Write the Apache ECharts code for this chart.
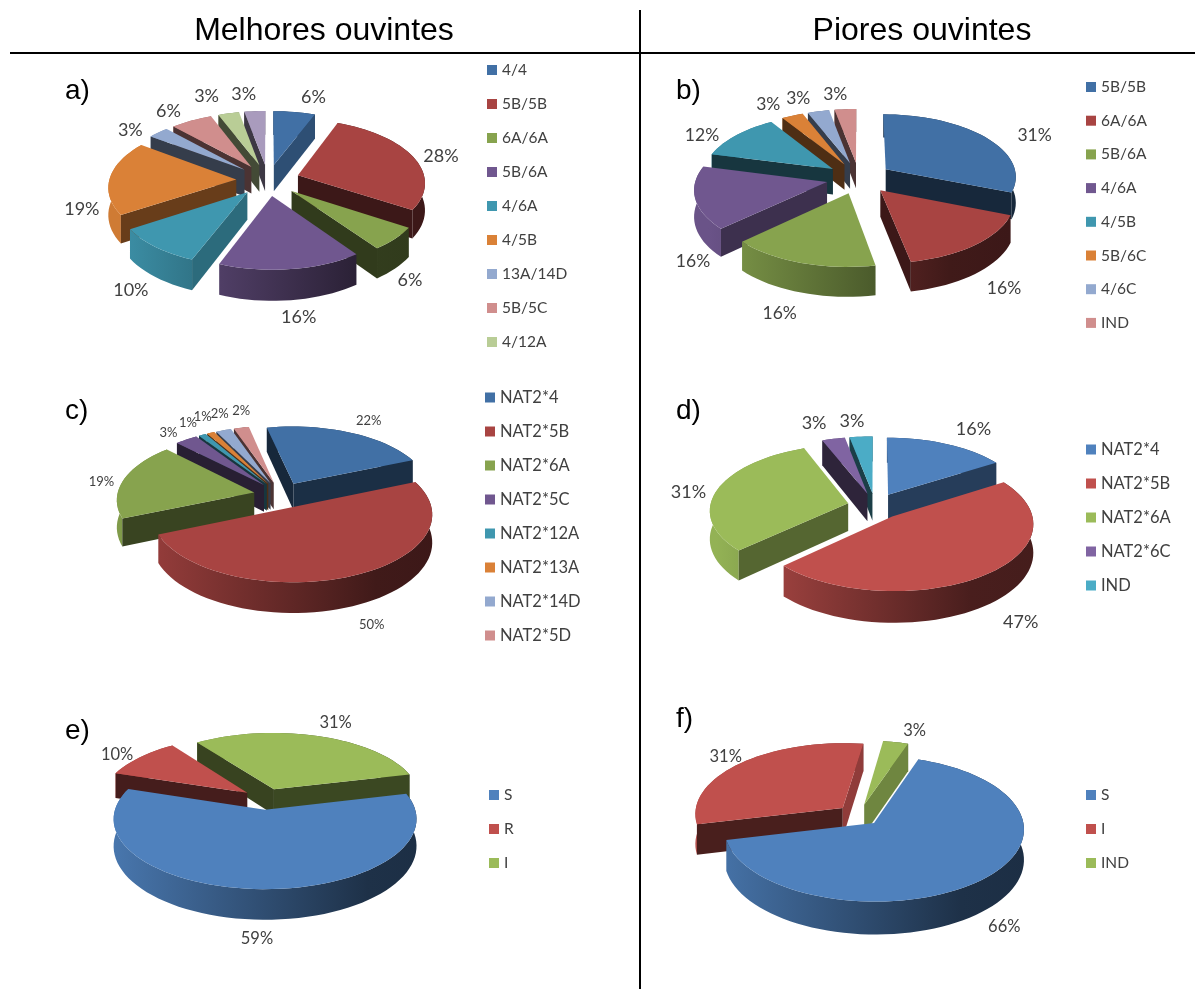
<!DOCTYPE html>
<html lang="pt">
<head>
<meta charset="utf-8">
<title>Melhores e piores ouvintes</title>
<style>html,body{margin:0;padding:0;background:#fff}#chart{width:1195px;height:989px}</style>
<script src="https://cdn.jsdelivr.net/npm/echarts@6/dist/echarts.min.js"></script>
</head>
<body>
<div id="chart"></div>
<script>
// Genotype and phenotype shares per panel
const namesA = ['4/4','5B/5B','6A/6A','5B/6A','4/6A','4/5B','13A/14D','5B/5C','4/12A','outros'];
const valuesA = [6,28,6,16,10,19,3,6,3,3];
const legendA = ['4/4','5B/5B','6A/6A','5B/6A','4/6A','4/5B','13A/14D','5B/5C','4/12A'];

const namesB = ['5B/5B','6A/6A','5B/6A','4/6A','4/5B','5B/6C','4/6C','IND'];
const valuesB = [31,16,16,16,12,3,3,3];

const namesC = ['NAT2*4','NAT2*5B','NAT2*6A','NAT2*5C','NAT2*12A','NAT2*13A','NAT2*14D','NAT2*5D'];
const valuesC = [22,50,19,3,1,1,2,2];

const namesD = ['NAT2*4','NAT2*5B','NAT2*6A','NAT2*6C','IND'];
const valuesD = [16,47,31,3,3];

const namesE = ['S','R','I'];
const valuesE = [59,10,31];

const namesF = ['S','I','IND'];
const valuesF = [66,31,3];

// Slice palettes
const deepColors = ['#4170A5','#A84442','#87A34E','#70578F','#3F97AF','#DA8137','#93A9CF','#D08E8D','#B9CD96','#A99BBD'];
const brightColors = ['#4F81BD','#C0504D','#9BBB59','#8064A2','#4BACC6'];

// Pie geometry: centre, radii, tilt perspective, wall height, rotation, slice offset, label shifts
const panels = [
  {id:'a', names:namesA, values:valuesA, legend:legendA, colors:deepColors,
   cx:268, cy:180, rx:127, ry:62.5, k:.105, depth:27, start:0, explode:.25, font:'18px Lato',
   tag:[65,91], legendLeft:487, legendTop:62, legendGap:18, legendFont:15.5,
   nudge:[[15,-1],[5,4],[-6,9],[4,-1],[-6,6],[-3,32],[-11,7],[-11,2],[-16,-4],[-9,-3]]},
  {id:'b', names:namesB, values:valuesB, legend:namesB, colors:deepColors,
   cx:859, cy:178, rx:131, ry:62.5, k:.105, depth:26, start:0, explode:.25, font:'17.5px Lato',
   tag:[676,91], legendLeft:1086, legendTop:79, legendGap:17.7, legendFont:15.5,
   nudge:[[30,6],[10,7],[-12,5],[24,53],[-15,8],[-14,1],[-14,0],[-8,-1]]},
  {id:'c', names:namesC, values:valuesC, legend:namesC, colors:deepColors,
   cx:281, cy:495, rx:137, ry:65, k:.1, depth:27, start:-12, explode:.2, font:'13px Lato',
   tag:[65,411], legendLeft:485, legendTop:389, legendGap:17, legendFont:16.5,
   nudge:[[8,1],[7,4],[3,5],[-3,5],[-2,0],[3,-3],[5,-3],[6,-3]]},
  {id:'d', names:namesD, values:valuesD, legend:namesD, colors:brightColors,
   cx:875, cy:506, rx:138, ry:65, k:.1, depth:28, start:0, explode:.2, font:'18px Lato',
   tag:[676,411], legendLeft:1086, legendTop:441, legendGap:17, legendFont:16.5,
   nudge:[[15,-2],[15,9],[-4,6],[-13,-2],[-7,-1]]},
  {id:'e', names:namesE, values:valuesE, legend:namesE, colors:brightColors,
   cx:266, cy:799, rx:147, ry:66, k:.13, depth:26, start:76, explode:.16, font:'16.5px Lato',
   tag:[65,731], legendLeft:489, legendTop:787, legendGap:18, legendFont:15.5,
   nudge:[[0,-1],[-3,6],[10,0]]},
  {id:'f', names:namesF, values:valuesF, legend:namesF, colors:brightColors,
   cx:859, cy:815, rx:148, ry:71, k:.08, depth:30, start:19, explode:.15, font:'16.5px Lato',
   tag:[676,719], legendLeft:1086, legendTop:787, legendGap:18, legendFont:15.5,
   nudge:[[2,9],[4,4],[13,3]]}
];

const shade = (hex, f) => {
  const n = parseInt(hex.slice(1), 16);
  const c = [n >> 16, (n >> 8) & 255, n & 255].map(v => Math.round(v * f));
  return `rgb(${c.join(',')})`;
};
const rad = d => d * Math.PI / 180;

// Maps a point on the tilted disc to the page; h = 0 is the top face, 1 the base
function projector(p, offU, offV) {
  return (u, v, h) => {
    const uu = u + offU, vv = v + offV;
    const s = 1 / (1 - p.k * vv);
    return [p.cx + p.rx * uu * s, p.cy + p.ry * vv * s + h * p.depth * s];
  };
}

// Draws one slice as a prism from its value and the running total before it
function sliceRenderer(p, index) {
  return function (params, api) {
    const total = p.values.reduce((a, b) => a + b, 0);
    const from = p.start + api.value(1) / total * 360;
    const to = from + api.value(0) / total * 360;
    const mid = rad((from + to) / 2);
    const P = projector(p, p.explode * Math.sin(mid), -p.explode * Math.cos(mid));
    const steps = Math.max(6, Math.ceil((to - from) / 3));
    const arc = h => {
      const pts = [];
      for (let i = 0; i <= steps; i++) {
        const t = rad(from + (to - from) * i / steps);
        pts.push(P(Math.sin(t), -Math.cos(t), h));
      }
      return pts;
    };
    const base = p.colors[index];
    const apexTop = P(0, 0, 0), apexBase = P(0, 0, 1);
    const topArc = arc(0), baseArc = arc(1);
    // A cut face is only drawn when it turns towards the viewer
    const radialWall = (outerTop, outerBase, normal) => {
      if (Math.cos(rad(normal)) >= 0) return [];
      const light = Math.max(0, Math.sin(rad(normal)));
      return [{
        type: 'polygon',
        shape: {points: [apexTop, outerTop, outerBase, apexBase]},
        style: {fill: shade(base, .36 + .4 * light * light)}
      }];
    };
    const left = p.cx - p.rx * 1.15, right = p.cx + p.rx * 1.15;
    const wallFill = new echarts.graphic.LinearGradient(left, 0, right, 0, [
      {offset: 0, color: shade(base, .95)},
      {offset: .8, color: shade(base, .38)},
      {offset: 1, color: shade(base, .36)}
    ], true);
    return {
      type: 'group',
      children: [
        {type: 'polygon', shape: {points: topArc.concat(baseArc.slice().reverse())}, style: {fill: wallFill}},
        ...radialWall(topArc[0], baseArc[0], from - 90),
        ...radialWall(topArc[steps], baseArc[steps], to + 90),
        {type: 'polygon', shape: {points: [apexTop].concat(topArc)}, style: {fill: base}}
      ]
    };
  };
}

// Writes the percentage outside each slice of a panel
function labelRenderer(p) {
  return function (params, api) {
    const i = params.dataIndex;
    const total = p.values.reduce((a, b) => a + b, 0);
    const mid = rad(p.start + (api.value(1) + api.value(0) / 2) / total * 360);
    const P = projector(p, p.explode * Math.sin(mid), -p.explode * Math.cos(mid));
    const edge = P(Math.sin(mid) * 1.12, -Math.cos(mid) * 1.12, Math.cos(mid) < 0 ? -Math.cos(mid) : 0);
    const n = p.nudge[i];
    return {
      type: 'text',
      style: {
        text: api.value(0) + '%',
        x: edge[0] + Math.sin(mid) * 10 + n[0],
        y: edge[1] - Math.cos(mid) * 8 + n[1],
        align: 'center', verticalAlign: 'middle',
        font: p.font, fill: '#404040'
      }
    };
  };
}

const series = [], legends = [];
panels.forEach(p => {
  let running = 0;
  const total = p.values.reduce((a, b) => a + b, 0);
  p.values.forEach((v, i) => {
    const cumulative = running;
    running += v;
    const midAngle = rad(p.start + (cumulative + v / 2) / total * 360);
    series.push({
      type: 'custom', coordinateSystem: 'none',
      name: p.id + ':' + p.names[i],
      z: 10 + Math.round((-Math.cos(midAngle) + 1) * 40),
      silent: true, animation: false,
      itemStyle: {color: p.colors[i]},
      data: [[v, cumulative]],
      renderItem: sliceRenderer(p, i)
    });
  });
  let sum = 0;
  series.push({
    type: 'custom', coordinateSystem: 'none',
    name: p.id + ':percent', z: 200, silent: true, animation: false,
    data: p.values.map(v => { const row = [v, sum]; sum += v; return row; }),
    renderItem: labelRenderer(p)
  });
  legends.push({
    left: p.legendLeft, top: p.legendTop, orient: 'vertical', padding: 0,
    itemWidth: 10, itemHeight: 10, itemGap: p.legendGap, selectedMode: false,
    icon: 'rect',
    textStyle: {fontFamily: 'Lato', fontSize: p.legendFont, color: '#404040', lineHeight: 15},
    formatter: name => name.slice(name.indexOf(':') + 1),
    data: p.legend.map(n => ({name: p.id + ':' + n, itemStyle: {color: p.colors[p.names.indexOf(n)]}}))
  });
});

const tagText = panels.map(p => ({
  type: 'text', x: p.tag[0], y: p.tag[1], silent: true,
  style: {text: p.id + ')', font: '28px "Liberation Sans"', fill: '#000', align: 'left', verticalAlign: 'middle'}
}));

const chart = echarts.init(document.getElementById('chart'), null, {renderer: 'canvas'});
chart.setOption({
  backgroundColor: '#fff',
  animation: false,
  legend: legends,
  series,
  graphic: [
    {type: 'line', silent: true, shape: {x1: 10, y1: 53, x2: 1195, y2: 53}, style: {stroke: '#000', lineWidth: 2}},
    {type: 'line', silent: true, shape: {x1: 640, y1: 10, x2: 640, y2: 989}, style: {stroke: '#000', lineWidth: 2}},
    {type: 'text', x: 324, y: 31, silent: true, style: {text: 'Melhores ouvintes', font: '32px "Liberation Sans"', fill: '#000', align: 'center', verticalAlign: 'middle'}},
    {type: 'text', x: 922, y: 31, silent: true, style: {text: 'Piores ouvintes', font: '32px "Liberation Sans"', fill: '#000', align: 'center', verticalAlign: 'middle'}},
    ...tagText
  ]
});
</script>
</body>
</html>
